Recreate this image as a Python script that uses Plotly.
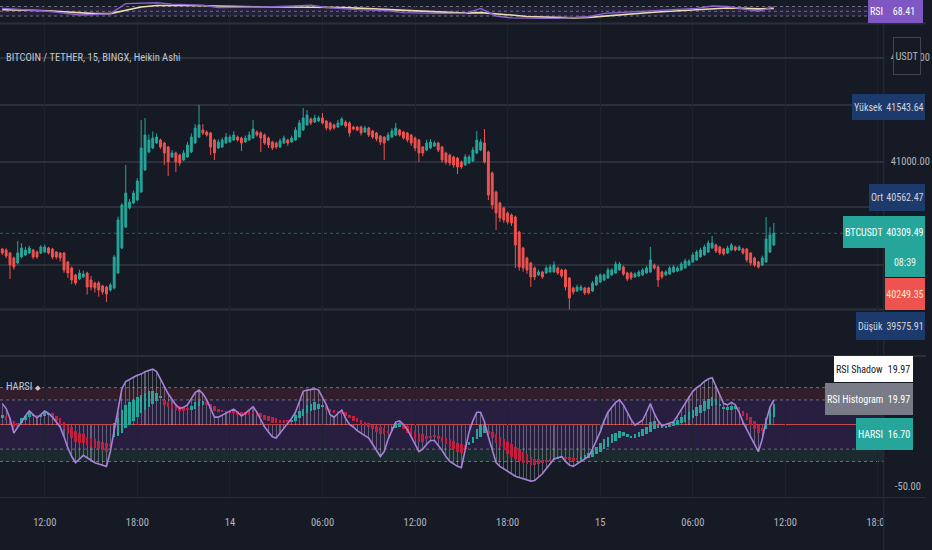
import pandas as pd
import plotly.graph_objects as go

# ---------------- data ----------------
start_time = "2022-04-13 09:15"

price_open = [40159,40149,40120,40072,40024,40082,40101,40120,40149,40130,
40120,40130,40168,40159,40130,40120,40120,40034,39976,39909,
39870,39890,39928,39861,39832,39832,39803,39793,39764,39784,
39928,40168,40370,40553,40601,40630,40707,40919,41092,41130,
41178,41207,41178,41140,41044,41082,41063,41015,41044,41092,
41178,41236,41303,41284,41275,41207,41130,41140,41178,41188,
41207,41236,41226,41188,41207,41226,41284,41275,41255,41226,
41188,41178,41140,41178,41207,41188,41207,41236,41303,41352,
41409,41380,41390,41419,41390,41371,41352,41332,41352,41380,
41371,41332,41332,41332,41284,41323,41294,41275,41246,41236,
41207,41236,41255,41303,41284,41275,41255,41226,41207,41140,
41111,41130,41149,41178,41140,41082,41063,41044,41034,40996,
40967,40986,41005,41082,41111,41178,41092,40890,40707,40601,
40553,40505,40486,40467,40322,40168,40072,40024,39976,39909,
39938,39928,39938,39938,39976,39957,39957,39880,39784,39755,
39764,39784,39784,39755,39813,39841,39861,39880,39909,39928,
39957,39986,39928,39928,39890,39899,39909,39928,39938,40005,
39986,39938,39909,39918,39938,39947,39957,39976,40005,40034,
40053,40082,40101,40130,40168,40197,40178,40159,40120,40149,
40178,40149,40159,40159,40120,40072,40034,40005,40034,40130,
40197]

price_close = [40120,40091,40005,39986,40120,40168,40149,40168,40082,40082,
40178,40178,40120,40082,40082,40072,39957,39928,39861,39832,
39928,39918,39793,39793,39784,39764,39745,39726,39813,40082,
40438,40582,40697,40611,40697,40813,41130,41255,41207,41226,
41236,41140,41082,40996,41082,40996,40986,41082,41159,41236,
41323,41352,41275,41255,41140,41082,41188,41207,41236,41236,
41255,41207,41178,41226,41255,41313,41255,41226,41178,41159,
41130,41140,41198,41226,41178,41226,41303,41371,41419,41448,
41371,41419,41419,41371,41323,41313,41323,41371,41409,41342,
41275,41313,41303,41275,41323,41255,41236,41217,41188,41178,
41255,41294,41323,41255,41226,41207,41178,41130,41082,41082,
41178,41188,41178,41111,41015,40996,40986,40967,40948,40948,
41044,41044,41111,41207,41188,40996,40678,40582,40505,40457,
40438,40418,40409,40197,39986,39976,39957,39890,39890,39938,
39890,39976,39986,40005,39928,39899,39793,39687,39745,39793,
39793,39736,39736,39832,39890,39909,39909,39957,39957,40015,
40015,39918,39870,39880,39918,39938,39957,39976,40053,39976,
39861,39890,39938,39976,39986,39976,40015,40043,40043,40101,
40130,40149,40178,40216,40216,40139,40120,40111,40168,40197,
40149,40178,40120,40053,40024,40005,39986,40072,40255,40293,
40309.49]

price_high = [40170,40165,40130,40085,40236,40215,40180,40190,40160,40145,
40195,40200,40180,40170,40140,40130,40130,40045,39990,39920,
39960,39950,39940,39900,39845,39850,39815,39805,39830,40100,
40470,40600,40967,40640,40720,40840,41400,41419,41260,41290,
41270,41220,41190,41150,41110,41095,41075,41110,41190,41270,
41360,41543.64,41360,41300,41285,41220,41215,41230,41275,41260,
41290,41250,41240,41250,41290,41400,41300,41290,41270,41240,
41200,41190,41220,41250,41220,41250,41330,41400,41515,41496,
41425,41450,41440,41467,41400,41385,41365,41400,41430,41395,
41385,41345,41345,41345,41345,41335,41305,41285,41255,41245,
41280,41320,41371,41315,41295,41285,41265,41240,41220,41150,
41210,41215,41200,41190,41150,41095,41075,41055,41045,41010,
41070,41065,41140,41294,41215,41313,41105,40905,40720,40615,
40565,40520,40500,40480,40335,40180,40085,40035,39990,39960,
39950,40000,40010,40040,39990,39970,39970,39890,39795,39815,
39815,39795,39795,39850,39910,39925,39925,39980,39975,40040,
40035,40000,39940,39940,39935,39955,39975,39995,40178,40020,
40000,39950,39955,39995,40005,39995,40035,40065,40060,40125,
40150,40170,40200,40240,40284,40210,40190,40170,40190,40215,
40190,40195,40170,40170,40130,40085,40045,40095,40467,40370,
40409]

price_low = [40100,40070,39870,39960,40010,40070,40090,40110,40060,40065,
40110,40120,40105,40060,40060,40040,39930,39880,39820,39810,
39860,39880,39720,39760,39740,39700,39720,39649,39750,39770,
39920,40160,40360,40540,40590,40620,40700,40910,41080,41120,
41170,41120,40967,40861,41035,40900,40960,41005,41035,41080,
41170,41225,41255,41240,41063,41015,41120,41130,41170,41180,
41200,41190,41101,41180,41200,41220,41240,41092,41160,41130,
41110,41120,41130,41170,41150,41180,41200,41230,41295,41345,
41350,41370,41380,41355,41300,41295,41305,41325,41345,41325,
41240,41300,41290,41250,41275,41235,41215,41195,41160,41015,
41200,41225,41245,41240,41210,41185,41150,41100,40996,41050,
41100,41120,41140,41090,40990,40970,40960,40940,40880,40930,
40960,40975,40995,41070,41100,40980,40630,40540,40341,40420,
40410,40395,40380,39976,39950,39940,39920,39793,39860,39900,
39870,39920,39930,39930,39910,39880,39760,39575.91,39720,39745,
39755,39715,39720,39745,39805,39830,39850,39870,39900,39920,
39950,39900,39850,39860,39880,39890,39900,39920,39930,39960,
39793,39870,39900,39910,39930,39940,39950,39970,39995,40025,
40045,40075,40095,40120,40160,40120,40100,40095,40110,40140,
40135,40140,40105,40030,40000,39985,39970,39995,40025,40120,
40190]

# HARSI pane
rsi_shadow = [17,13,5,-7,-2,2,7,11,8,5.5,
8,11,9,6,2,-2,-10,-19,-26,-31,
-28,-25,-27,-29,-31,-32,-33,-34,-22,-6,
10,29,35,37,38.5,40,41,43,44,45,
43,37.5,31,25,20,16,13,14,16,21,
26,28,25,20,13,6,6,7.5,9,11,
12.5,10,7,9,12,14.5,10,4,-2,-6,
-10,-11,-7,-3,1,5,10,19,27,28,
28.5,29,28,22,16,8,6,9,11.8,5,
0,-2,-5,-7,-9,-11,-16,-21,-26,-22,
-12,-5,2,3,0,-4,-10,-17,-22,-20,
-16,-13,-13,-17,-21,-26,-30,-32,-34,-35,
-20,-6,3,10,10,2,-10,-20,-31,-34,
-36,-38,-40,-42,-43,-44,-45,-46,-45.5,-43,
-40,-36,-32,-28,-27,-26,-30,-33,-34,-32,
-29.5,-28,-26,-20,-13,-6,3,10,14,18,
20,16,10,4,-0.5,1.5,3.5,10,17,9,
3,-1,0,1.5,2.3,7,12,17,23,27,
30,32,35,37,38,31,24,17,16,18,
16,10,2,-4,-9,-16,-22,-12,3,14,
19.97]

harsi_open = [5,7,5,3,1,1,4,6,7,8,
6,7,8,9,7,5,2,0,-2,-5,
-7,-8,-10,-11,-12,-13,-14,-15,-16,-10,
-9,-7,-3,0,3,6,9,12,14,17,
19,22,20,18,17,16,15,14,13,12,
13,15,16,18,17,15,13,12,11,11,
12,11,10,10,10,10,10,9,8,7,
6,5,4,3,3,2,3,5,7,9,
11,12,13,14,15,13,12,11,10,10,
8,7,5,4,2,1,0,-1,-2,-3,
-5,-5,-3,-2,0,-1,-3,-5,-7,-8,
-9,-9,-9,-9,-10,-11,-12,-13,-15,-16,
-17,-17,-15,-12,-10,-7,-5,-6,-8,-10,
-12,-14,-16,-18,-20,-22,-24,-26,-28,-28,
-29,-29,-28.5,-29,-28,-27,-26,-26,-27,-27,
-29,-28,-27,-26,-24,-22,-20,-18,-15,-13,
-11,-9,-10,-11,-11,-10,-9,-8,-6,-4,
-3,-3,-3,-2,-1,0,1,2,4,5,
7,9,11,13,15,16,15,13,12,12,
13,14,11,9,6,3,0,-3,-4,0,
6]

harsi_close = [8,4,1,-2,-1,5,7,9,8,6,
8,10,9,6,3,0,-4,-8,-11,-14,
-15,-15,-17,-18,-19,-20,-21,-22,-17,1,
5,12,16,18,20,22,24,26,27,27,
26,23,16,14,13,12,11,11,12,15,
18,19,19,16,13,11,10,10,10,9.5,
9,8,7,8,8,9,7,6,4,3,
1,1,1,1.5,2,4,8,11,13,16,
17,18,17,16,12,10,9,9,9,7,
5,3,2,0,-1,-2,-4,-6,-8,-8,
-7,-2,1,1,-4,-7,-10,-12,-14,-14,
-12,-11,-10,-12,-14,-16,-18,-20,-22,-23,
-20,-14,-10,-4,0,0,-8,-11,-15,-18,
-21,-24,-26,-28,-30,-31,-32,-33,-33,-32,
-31,-30,-29.5,-27,-26,-25.5,-28,-29,-30,-29,
-26,-25,-23,-21,-18,-15,-12,-10,-8,-7,
-5,-6,-8,-9,-8,-6,-4,-2,2,3,
0,-1,-1,0,2,4,6,8,10,12,
14,16,19,21,22,20,17,14,14,15,
15,10,7,4,0,-4,-7,-5,5,12,
16.7]

# top RSI pane (hourly samples)
top_rsi = [62,58,55,50,42,34,36,40,82,85,86,80,78,75,66,66,66,68,70,72,
76,66,60,57,55,52,44,41,41,41,41,62,30,22,20,20,20,22,27,41,
45,48,52,55,60,62,72,70,60,50,68.41]
top_rsi_ma = [57,56,55,52,48,44,40,40,55,68,74,75,74,73,71,70,69,68,68,68,
69,68,66,63,60,57,53,49,46,44,42,44,40,34,28,25,22,22,24,30,
36,40,45,49,53,57,62,64,62,60,62]

# levels / labels
level_high = 41543.64
level_avg = 40562.47
level_low = 39575.91
last_price = 40309.49
countdown = "08:39"
other_price = 40249.35
rsi_last = 68.41
shadow_last = 19.97
hist_last = 19.97
harsi_last = 16.70

tick_times = ["2022-04-13 12:00", "2022-04-13 18:00", "2022-04-14 00:00", "2022-04-14 06:00",
              "2022-04-14 12:00", "2022-04-14 18:00", "2022-04-15 00:00", "2022-04-15 06:00",
              "2022-04-15 12:00", "2022-04-15 18:00"]
tick_text = ["12:00", "18:00", "14", "06:00", "12:00", "18:00", "15", "06:00", "12:00", "18:00"]
price_ticks = [40000, 41000, 42000]
price_tick_text = ["", "41000.00", "42000.00"]

# ---------------- style ----------------
W, H = 932, 550
BG = "#161a25"
TXT = "#b2b5be"
FONT = "Roboto Condensed, Liberation Sans Narrow, sans-serif"
TEAL = "#26a69a"
RED = "#ef5350"
HRED = "#c0203f"
NAVY = "#1d3a6c"
PURPLE = "#7e57c2"
LINE = "#2a2e39"
HGRID = "#2c303b"
VGRID = "#1e222d"
XR = 889.5 / W


def py(p):
    return 1 - p / H


times = pd.date_range(start_time, periods=len(price_close), freq="15min")
top_times = times[::4]

fig = go.Figure()

# main candles
fig.add_trace(go.Candlestick(
    x=times, open=price_open, high=price_high, low=price_low, close=price_close,
    xaxis="x", yaxis="y",
    increasing=dict(line=dict(color=TEAL, width=1), fillcolor=TEAL),
    decreasing=dict(line=dict(color=RED, width=1), fillcolor=RED),
    whiskerwidth=0, showlegend=False, hoverinfo="skip"))

# HARSI: histogram, candles, shadow line
fig.add_trace(go.Bar(x=times, y=rsi_shadow, xaxis="x2", yaxis="y2", width=260000,
                     marker=dict(color="rgba(200,200,212,0.38)", line=dict(width=0)),
                     showlegend=False, hoverinfo="skip"))
h_colors = [TEAL if c >= o else HRED for o, c in zip(harsi_open, harsi_close)]
fig.add_trace(go.Bar(x=times, y=[c - o for o, c in zip(harsi_open, harsi_close)], base=harsi_open,
                     xaxis="x2", yaxis="y2", width=600000,
                     marker=dict(color=h_colors, line=dict(width=0)),
                     showlegend=False, hoverinfo="skip"))
fig.add_trace(go.Scatter(x=times, y=rsi_shadow, mode="lines", xaxis="x2", yaxis="y2",
                         line=dict(color="#a682d8", width=1.6), showlegend=False, hoverinfo="skip"))

# top RSI pane
fig.add_trace(go.Scatter(x=top_times, y=top_rsi_ma, mode="lines", xaxis="x3", yaxis="y3",
                         line=dict(color="#eadbb0", width=1.6), showlegend=False, hoverinfo="skip"))
fig.add_trace(go.Scatter(x=top_times, y=top_rsi, mode="lines", xaxis="x3", yaxis="y3",
                         line=dict(color="#8e62cf", width=1.4), showlegend=False, hoverinfo="skip"))

shapes = []
# HARSI bands
for y0, y1, col in [(20, 30, "rgba(130,40,60,0.26)"), (-20, 20, "rgba(80,40,130,0.30)"),
                    (-30, -20, "rgba(40,90,70,0.27)")]:
    shapes.append(dict(type="rect", xref="paper", x0=0, x1=XR, yref="y2", y0=y0, y1=y1,
                       fillcolor=col, line=dict(width=0), layer="below"))
for v in [30, 20, -20, -30]:
    shapes.append(dict(type="line", xref="paper", x0=0, x1=XR, yref="y2", y0=v, y1=v,
                       line=dict(color="#6d707b", width=1, dash="dot"), layer="below"))
shapes.append(dict(type="line", xref="paper", x0=0, x1=XR, yref="y2", y0=0, y1=0,
                   line=dict(color="rgba(226,84,80,0.85)", width=1), layer="below"))
# top RSI band
shapes.append(dict(type="rect", xref="paper", x0=0, x1=XR, yref="y3", y0=30, y1=70,
                   fillcolor="rgba(126,87,194,0.13)", line=dict(width=0), layer="below"))
for v in [70, 50, 30]:
    shapes.append(dict(type="line", xref="paper", x0=0, x1=XR, yref="y3", y0=v, y1=v,
                       line=dict(color="#6d707b", width=1, dash="dot"), layer="below"))
# main level lines
for v in [level_high, level_avg, level_low]:
    shapes.append(dict(type="line", xref="paper", x0=0, x1=XR, yref="y", y0=v, y1=v,
                       line=dict(color=HGRID, width=2), layer="below"))
shapes.append(dict(type="line", xref="paper", x0=0, x1=XR, yref="y", y0=last_price, y1=last_price,
                   line=dict(color="rgba(38,166,154,0.55)", width=1, dash="dot"), layer="below"))
# cover for tick label overflow into the price scale
shapes.append(dict(type="rect", xref="paper", x0=XR, x1=1, yref="paper", y0=0, y1=py(498),
                   fillcolor=BG, line=dict(width=0), layer="above"))
# pane separators
for p, wdt in [(23.5, 2), (356, 2), (497.5, 1)]:
    shapes.append(dict(type="line", xref="paper", x0=0, x1=1, yref="paper", y0=py(p), y1=py(p),
                       line=dict(color=LINE, width=wdt), layer="above"))
shapes.append(dict(type="line", xref="paper", x0=XR, x1=XR, yref="paper", y0=0, y1=1,
                   line=dict(color=LINE, width=1), layer="above"))

ann = []


def name_box(text, yc, h, bg, fg="#d1d4dc", size=10):
    # right-aligned against the price scale, width follows the text
    ann.append(dict(text=text, xref="paper", yref="paper", x=890.5 / W, y=py(yc),
                    xanchor="right", yanchor="middle", showarrow=False,
                    height=h - 4, bgcolor=bg, borderpad=2, borderwidth=0,
                    font=dict(family=FONT, size=size, color=fg)))


def value_box(text, yc, w, h, bg, fg="#d1d4dc", size=10):
    ann.append(dict(text=text, xref="paper", yref="paper", x=890.5 / W, y=py(yc),
                    xanchor="left", yanchor="middle", showarrow=False,
                    width=w, height=h, bgcolor=bg, borderpad=0, borderwidth=0,
                    font=dict(family=FONT, size=size, color=fg)))


name_box("Yüksek", 107, 26, NAVY)
value_box(f"{level_high:.2f}", 107, 40, 26, NAVY)
name_box("Ort", 197, 27, NAVY)
value_box(f"{level_avg:.2f}", 197, 40, 27, NAVY)
name_box("BTCUSDT", 232, 32, TEAL, "#ffffff")
value_box(f"{last_price:.2f}", 232, 40, 32, TEAL, "#ffffff")
value_box(countdown, 262, 40, 29, TEAL, "#e8f5f2")
value_box(f"{other_price:.2f}", 294, 40, 32, RED, "#fbe8c4")
name_box("Düşük", 326, 28, NAVY)
value_box(f"{level_low:.2f}", 326, 40, 28, NAVY)
name_box("RSI", 11, 23, PURPLE, "#ffffff")
value_box(f"{rsi_last:.2f}", 11, 38, 23, PURPLE, "#ffffff")
ann.append(dict(text="USDT", xref="paper", yref="paper", x=913 / W, y=py(56),
                xanchor="center", yanchor="middle", showarrow=False,
                width=26, height=36, bgcolor=BG, borderpad=0, bordercolor="#434651",
                borderwidth=1, font=dict(family=FONT, size=10.5, color=TXT)))
name_box("RSI Shadow", 369, 26, "#ffffff", "#131722", 10)
value_box(f"{shadow_last:.2f}", 369, 28, 26, "#ffffff", "#131722", 10)
name_box("RSI Histogram", 399, 32, "#787b86", "#ffffff", 10)
value_box(f"{hist_last:.2f}", 399, 28, 32, "#787b86", "#ffffff", 10)
name_box("HARSI", 434, 32, TEAL, "#ffffff", 10)
value_box(f"{harsi_last:.2f}", 434, 28, 32, TEAL, "#ffffff", 10)

ann.append(dict(text="BITCOIN / TETHER, 15, BINGX, Heikin Ashi", xref="paper", yref="paper",
                x=4 / W, y=py(57), xanchor="left", yanchor="middle", showarrow=False,
                font=dict(family=FONT, size=10.5, color="#c3c6ce")))
ann.append(dict(text="HARSI <span style='font-size:7px'>◆</span>", xref="paper", yref="paper",
                x=4 / W, y=py(386), xanchor="left", yanchor="middle", showarrow=False,
                font=dict(family=FONT, size=10.5, color="#c3c6ce")))

xcommon = dict(type="date", range=["2022-04-13 09:06:06", "2022-04-15 18:22:30"],
               domain=[0, XR], tickvals=tick_times, ticktext=tick_text,
               showgrid=True, gridcolor=VGRID, gridwidth=1, zeroline=False, showline=False,
               tickfont=dict(family=FONT, size=10.5, color=TXT))

fig.update_layout(
    width=W, height=H, margin=dict(l=0, r=0, t=0, b=0),
    paper_bgcolor=BG, plot_bgcolor=BG, showlegend=False, barmode="overlay", bargap=0,
    font=dict(family=FONT, size=10.5, color=TXT),
    xaxis=dict(xcommon, anchor="y", showticklabels=False, rangeslider=dict(visible=False)),
    xaxis2=dict(xcommon, anchor="y2", matches="x", showticklabels=True,
                ticks="outside", ticklen=15, tickcolor="rgba(0,0,0,0)"),
    xaxis3=dict(xcommon, anchor="y3", matches="x", showticklabels=False),
    yaxis=dict(domain=[py(355), py(24)], range=[39139, 42323], side="right", anchor="x",
               tickvals=price_ticks, ticktext=price_tick_text, showgrid=True,
               gridcolor=HGRID, gridwidth=2, zeroline=False, ticks="outside", ticklen=4,
               tickcolor="rgba(0,0,0,0)", tickfont=dict(family=FONT, size=10.5, color=TXT)),
    yaxis2=dict(domain=[py(497), py(357)], range=[-58.9, 54.9], side="right", anchor="x2",
                tickvals=[-50], ticktext=["-50.00"], showgrid=False, zeroline=False,
                ticks="outside", ticklen=8, tickcolor="rgba(0,0,0,0)",
                tickfont=dict(family=FONT, size=10.5, color=TXT)),
    yaxis3=dict(domain=[py(23), 1], range=[0.5, 97.4], anchor="x3", showticklabels=False,
                showgrid=False, zeroline=False),
    shapes=shapes, annotations=ann,
)

fig.write_html("out.html", config={"displayModeBar": False},
               post_script="document.body.style.margin='0px';document.body.style.padding='0px';"
                           "document.body.style.background='#161a25';")
